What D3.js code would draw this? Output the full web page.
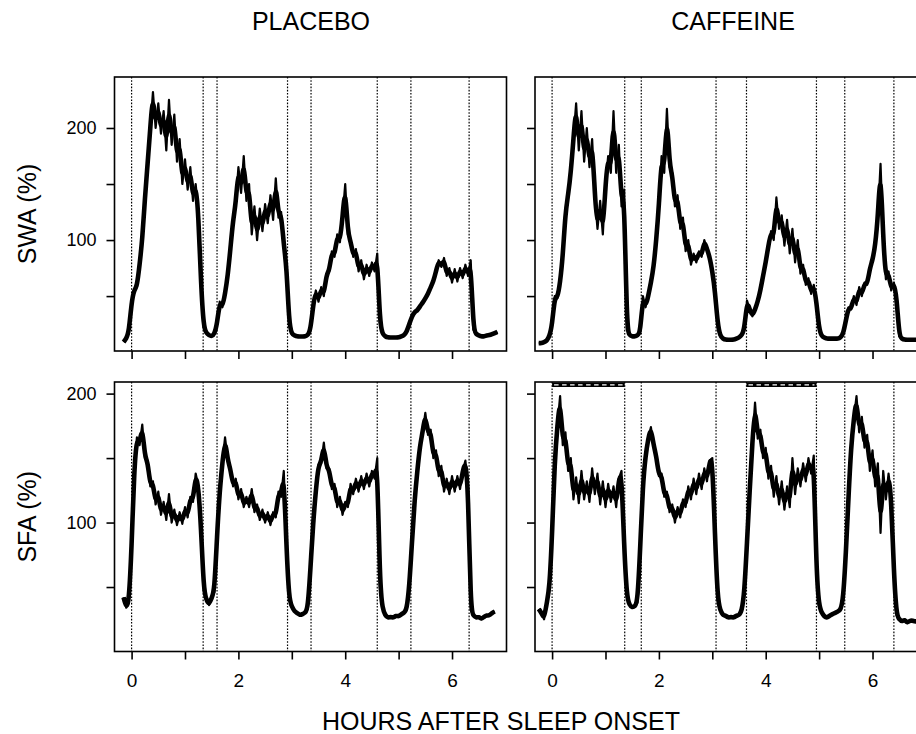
<!DOCTYPE html>
<html>
<head>
<meta charset="utf-8">
<script src="https://d3js.org/d3.v7.min.js"></script>
<style>
    body { margin: 0; background: #fff; }
    svg { display: block; font-family: "Liberation Sans", Arial, Helvetica, sans-serif; }
</style>
</head>
<body>
<div id="chart"></div>
<script>
// size of the page
var w = 916;
var h = 734;

// samples are every 0.05 h (3 min) after the start hour of each series
var STEP = 0.05;

var conditions = ["PLACEBO", "CAFFEINE"];
var measures = ["SWA (%)", "SFA (%)"];
var xTitle = "HOURS AFTER SLEEP ONSET";

var hourTicks = [0, 1, 2, 3, 4, 5, 6];
var hourLabels = ["0", "", "2", "", "4", "", "6"];
var pctTicks = [50, 100, 150, 200];
var pctLabels = ["", "100", "", "200"];

// dotted lines = start / end of each NREM episode
var placeboMarks = [0, 1.34, 1.6, 2.92, 3.36, 4.6, 5.23, 6.32];
var caffeineMarks = [0, 1.36, 1.67, 3.07, 3.64, 4.95, 5.48, 6.4];
// hatched bars on top of the caffeine SFA panel
var caffeineBars = [[0, 1.36], [3.64, 4.95]];

var swaPlaceboStart = -0.15;
var swaPlacebo = [
    9, 12, 18, 45, 56, 58, 78, 100, 138, 168,
    200, 232, 200, 222, 195, 215, 180, 225, 185, 212,
    170, 190, 150, 172, 145, 165, 135, 150, 125, 60,
    22, 17, 15, 14, 16, 25, 45, 40, 52, 68,
    92, 118, 132, 165, 142, 175, 135, 150, 105, 130,
    100, 128, 108, 132, 115, 140, 118, 155, 120, 125,
    95, 78, 25, 16, 15, 14, 14, 14, 14, 15,
    20, 42, 55, 45, 58, 50, 70, 72, 90, 85,
    105, 98, 120, 150, 105, 100, 85, 92, 72, 82,
    65, 78, 68, 80, 72, 88, 25, 16, 14, 13,
    13, 13, 13, 13, 14, 15, 18, 25, 32, 36,
    37, 41, 44, 48, 52, 58, 63, 72, 82, 76,
    84, 68, 75, 62, 74, 63, 75, 66, 78, 68,
    82, 20, 16, 15, 14, 14, 15, 15, 16, 17,
    18
];

var swaCaffeineStart = -0.25;
var swaCaffeine = [
    8, 8, 9, 10, 14, 24, 50, 48, 62, 85,
    125, 140, 160, 190, 222, 180, 215, 170, 200, 165,
    190, 140, 110, 135, 105, 150, 175, 160, 215, 160,
    185, 130, 145, 20, 15, 14, 14, 15, 17, 50,
    40, 50, 62, 75, 100, 130, 175, 160, 217, 165,
    160, 130, 140, 110, 120, 90, 100, 78, 88, 80,
    90, 85, 100, 92, 85, 72, 55, 25, 14, 12,
    11, 11, 11, 11, 12, 13, 15, 20, 46, 38,
    32, 38, 45, 55, 68, 80, 95, 108, 100, 138,
    110, 122, 95, 118, 88, 110, 80, 100, 70, 78,
    60, 66, 52, 60, 45, 20, 14, 13, 12, 12,
    12, 12, 12, 13, 16, 28, 40, 38, 50, 42,
    58, 50, 62, 60, 75, 82, 95, 120, 168, 100,
    65, 72, 55, 62, 50, 14, 12, 11, 11, 11,
    11, 11, 11
];

var sfaPlaceboStart = -0.15;
var sfaPlacebo = [
    42, 34, 38, 80, 143, 166, 160, 176, 150, 148,
    128, 132, 114, 124, 106, 116, 102, 122, 100, 110,
    98, 108, 99, 112, 104, 120, 116, 138, 128, 97,
    48, 40, 36, 42, 46, 90, 125, 146, 166, 148,
    142, 128, 134, 118, 126, 112, 120, 112, 126, 108,
    114, 102, 110, 100, 108, 98, 108, 104, 124, 120,
    140, 80, 40, 35, 31, 30, 28, 29, 30, 33,
    65, 100, 125, 145, 146, 162, 142, 142, 126, 130,
    112, 120, 106, 116, 112, 130, 122, 134, 124, 136,
    126, 138, 128, 140, 134, 150, 50, 33, 28, 26,
    27, 26, 28, 27, 29, 30, 32, 50, 85, 118,
    140, 160, 170, 185, 168, 172, 150, 156, 136, 144,
    124, 134, 122, 136, 124, 136, 126, 140, 148, 128,
    32, 28, 26, 27, 25, 27, 28, 28, 30, 31
];

var sfaCaffeineStart = -0.25;
var sfaCaffeine = [
    33, 30, 25, 38, 48, 90, 150, 175, 198, 160,
    170, 140, 150, 118, 135, 115, 140, 118, 132, 116,
    142, 122, 138, 114, 132, 112, 130, 116, 128, 112,
    134, 140, 80, 42, 36, 34, 35, 38, 80, 130,
    152, 165, 174, 160, 152, 136, 138, 120, 124, 108,
    114, 100, 112, 104, 118, 112, 128, 118, 134, 122,
    138, 126, 142, 132, 148, 150, 90, 40, 32, 28,
    28, 26, 27, 26, 28, 28, 31, 45, 85, 125,
    162, 193, 165, 172, 150, 158, 134, 144, 120, 136,
    114, 132, 110, 128, 112, 150, 122, 142, 128, 146,
    132, 150, 138, 152, 60, 35, 30, 27, 26, 28,
    29, 30, 31, 32, 40, 75, 120, 160, 180, 198,
    170, 182, 158, 168, 140, 156, 128, 146, 92, 140,
    118, 138, 120, 60, 28, 25, 23, 25, 22, 24,
    24, 23, 24
];

function init() {

    var svg = d3.select("#chart")
                .append("svg")
                .attr("width", w)
                .attr("height", h);

    // panel frame: two columns, two rows (the right column runs off the page)
    var colLeft = [114.5, 535];
    var panelW = 392;
    var titleX = [311, 733];
    var rows = [
        { top: 77, bottom: 351, domain: [1, 245.5] },
        { top: 382, bottom: 651.5, domain: [0, 209] }
    ];

    var panels = [
        { col: 0, row: 0, start: swaPlaceboStart, values: swaPlacebo, marks: placeboMarks, bars: [] },
        { col: 1, row: 0, start: swaCaffeineStart, values: swaCaffeine, marks: caffeineMarks, bars: [] },
        { col: 0, row: 1, start: sfaPlaceboStart, values: sfaPlacebo, marks: placeboMarks, bars: [] },
        { col: 1, row: 1, start: sfaCaffeineStart, values: sfaCaffeine, marks: caffeineMarks, bars: caffeineBars }
    ];

    panels.forEach(function(p) {
        var r = rows[p.row];
        var x0 = colLeft[p.col];

        var xScale = d3.scaleLinear()
                .domain([-0.32, 7.02])
                .range([x0, x0 + panelW]);

        var yScale = d3.scaleLinear()
                .domain(r.domain)
                .range([r.bottom, r.top]);

        var g = svg.append("g");

        // dotted episode markers
        g.selectAll("line.mark")
            .data(p.marks)
            .enter()
            .append("line")
            .attr("class", "mark")
            .attr("x1", function(d) { return xScale(d); })
            .attr("x2", function(d) { return xScale(d); })
            .attr("y1", r.top)
            .attr("y2", r.bottom)
            .attr("stroke", "#000")
            .attr("stroke-width", 1.2)
            .attr("stroke-dasharray", "1.6,1.6");

        // hatched bars (black bar with white dashes)
        g.selectAll("rect.bar")
            .data(p.bars)
            .enter()
            .append("rect")
            .attr("class", "bar")
            .attr("x", function(d) { return xScale(d[0]); })
            .attr("width", function(d) { return xScale(d[1]) - xScale(d[0]); })
            .attr("y", r.top + 0.5)
            .attr("height", 4.5)
            .attr("fill", "#000");

        g.selectAll("line.hatch")
            .data(p.bars)
            .enter()
            .append("line")
            .attr("class", "hatch")
            .attr("x1", function(d) { return xScale(d[0]) + 2; })
            .attr("x2", function(d) { return xScale(d[1]) - 2; })
            .attr("y1", r.top + 2.8)
            .attr("y2", r.top + 2.8)
            .attr("stroke", "#fff")
            .attr("stroke-width", 1.3)
            .attr("stroke-dasharray", "4.5,3.5");

        // the trace: a smoothed thick core under the raw jagged line
        var core = d3.line()
                .curve(d3.curveBasis)
                .x(function(d, i) { return xScale(p.start + i * STEP); })
                .y(function(d) { return yScale(d); });

        var line = d3.line()
                .x(function(d, i) { return xScale(p.start + i * STEP); })
                .y(function(d) { return yScale(d); });

        g.append("path")
            .datum(p.values)
            .attr("d", core)
            .attr("fill", "none")
            .attr("stroke", "#000")
            .attr("stroke-width", 4.6)
            .attr("stroke-linejoin", "round");

        g.append("path")
            .datum(p.values)
            .attr("d", line)
            .attr("fill", "none")
            .attr("stroke", "#000")
            .attr("stroke-width", 2.2)
            .attr("stroke-linejoin", "round");

        // frame
        g.append("rect")
            .attr("x", x0)
            .attr("y", r.top)
            .attr("width", panelW)
            .attr("height", r.bottom - r.top)
            .attr("fill", "none")
            .attr("stroke", "#000")
            .attr("stroke-width", 1.6);

        var xAxis = d3.axisBottom(xScale)
                .tickValues(hourTicks)
                .tickSize(8)
                .tickFormat(function(d, i) { return p.row === 1 ? hourLabels[i] : ""; });

        var yAxis = d3.axisLeft(yScale)
                .tickValues(pctTicks)
                .tickSize(8)
                .tickPadding(10)
                .tickFormat(function(d, i) { return p.col === 0 ? pctLabels[i] : ""; });

        var gx = g.append("g")
            .attr("transform", "translate(0," + r.bottom + ")")
            .call(xAxis);

        var gy = g.append("g")
            .attr("transform", "translate(" + x0 + ",0)")
            .call(yAxis);

        [gx, gy].forEach(function(a) {
            a.select(".domain").remove();
            a.attr("font-family", null).attr("font-size", null);
            a.selectAll(".tick line").attr("stroke-width", 1.6);
        });

        gx.selectAll(".tick text")
            .attr("y", 22)
            .attr("font-size", 19)
            .attr("fill", "#000");

        gy.selectAll(".tick text")
            .attr("font-size", 18)
            .attr("fill", "#000");
    });

    // column titles
    svg.selectAll("text.cond")
        .data(conditions)
        .enter()
        .append("text")
        .attr("class", "cond")
        .attr("x", function(d, i) { return titleX[i]; })
        .attr("y", 30)
        .attr("text-anchor", "middle")
        .attr("font-size", 25)
        .text(function(d) { return d; });

    // row titles
    svg.selectAll("text.measure")
        .data(measures)
        .enter()
        .append("text")
        .attr("class", "measure")
        .attr("transform", function(d, i) {
            return "translate(36," + (rows[i].top + rows[i].bottom) / 2 + ") rotate(-90)";
        })
        .attr("text-anchor", "middle")
        .attr("font-size", 25)
        .text(function(d) { return d; });

    svg.append("text")
        .attr("x", 322)
        .attr("y", 730)
        .attr("text-anchor", "start")
        .attr("font-size", 25)
        .text(xTitle);
}

window.onload = init;
</script>
</body>
</html>
